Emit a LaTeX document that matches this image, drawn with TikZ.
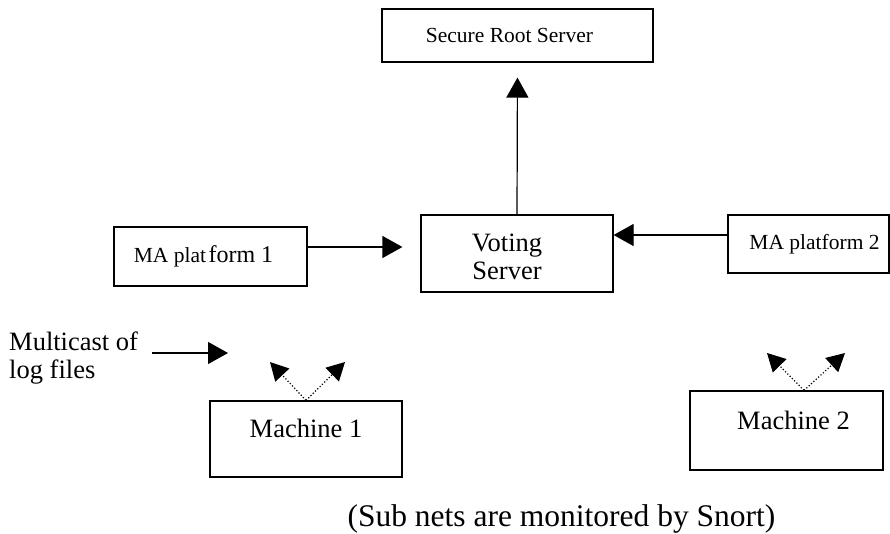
\documentclass[tikz,border=0pt]{standalone}
\usepackage{fontspec}
\setmainfont{Liberation Serif}
\usetikzlibrary{arrows.meta}
\begin{document}
\begin{tikzpicture}[x=1pt,y=1pt,
  box/.style={draw, line width=1.2pt, inner sep=0pt, anchor=center},
  bigtext/.style={font=\fontsize{26.5}{31}\selectfont},
  smalltext/.style={font=\fontsize{21.5}{25}\selectfont},
  flow/.style={line width=1.2pt, -{Triangle[length=20pt,width=22pt]}},
  spread/.style={line width=1.2pt, dotted, -{Triangle[length=18pt,width=19pt]}}]
\useasboundingbox (0,0) rectangle (890,533);

% servers and platforms
\node[box, smalltext, minimum width=271pt, minimum height=53pt] (root) at (517.5,497.5) {\hspace*{-16pt}Secure Root Server};
\node[box, minimum width=192pt, minimum height=77pt] (vote) at (517,279.5) {};
\node[bigtext, align=center, inner sep=0pt] (votetxt) at (507,276) {Voting\\[-3pt]Server};
\node[box, minimum width=193pt, minimum height=59pt] (ma1) at (210.5,276.5) {};
\node (ma1txt) at (203.5,277) {{\fontsize{21.5}{25}\selectfont MA plat} {\fontsize{24}{28}\selectfont form 1}};
\node[box, smalltext, minimum width=161pt, minimum height=58pt] (ma2) at (808.5,289) {\hspace*{12pt}MA platform 2};

% monitored machines
\node[box, minimum width=192pt, minimum height=76pt] (m1) at (306,94) {};
\node[bigtext] (m1txt) at (306,105) {Machine 1};
\node[box, minimum width=193pt, minimum height=79pt] (m2) at (786.5,102.5) {};
\node[bigtext] (m2txt) at (793.5,113) {Machine 2};

% multicast legend
\node[bigtext, align=left, anchor=west, inner sep=0pt] (mc) at (9,175) {Multicast of\\[-3pt]log files};
\coordinate (mcA) at (152,180);
\coordinate (mcB) at (228,180);

\node[font=\fontsize{31.5}{36}\selectfont, anchor=base, inner sep=0pt] (note) at (561.5,7) {(Sub nets are monitored by Snort)};

% vote flow
\draw[flow, shorten >=15pt] (vote.north) -- (root.south);
\draw[flow, shorten >=18pt] ([yshift=9.5pt]ma1.east) -- ([yshift=9.5pt]ma1.east -| vote.west);
\draw[flow] ([yshift=9pt]ma2.west) -- ([yshift=9pt]ma2.west -| vote.east);
\draw[flow] (mcA) -- (mcB);

% log multicast from each machine
\coordinate (m1l) at (270,171);
\coordinate (m1r) at (345,171);
\draw[spread] (m1.north) -- (m1l);
\draw[spread] (m1.north) -- (m1r);
\coordinate (m2top) at ([xshift=17.5pt]m2.north);
\coordinate (m2l) at (767,180);
\coordinate (m2r) at (845,180);
\draw[spread] (m2top) -- (m2l);
\draw[spread] (m2top) -- (m2r);
\end{tikzpicture}
\end{document}
